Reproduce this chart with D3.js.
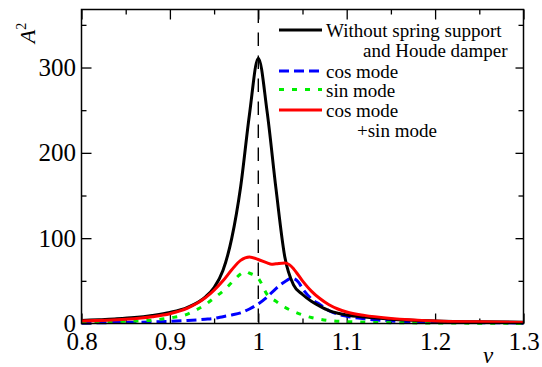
<!DOCTYPE html>
<html lang="en">
<head>
<meta charset="UTF-8" />
<title>Amplitude response</title>
<style>
  body { margin: 0; background: #fff; }
  .axis path { display: none; }
  .axis line { stroke: #000; stroke-width: 1.3; }
</style>
</head>
<body>
<div class="chart"></div>
<script src="https://d3js.org/d3.v7.min.js"></script>
<script>
// data =========================================================
const nuBlack = [0.80, 0.82, 0.84, 0.86, 0.88, 0.90, 0.92, 0.94, 0.95, 0.96, 0.97, 0.98, 0.99, 1.00, 1.01, 1.02, 1.03, 1.04, 1.05, 1.06, 1.07, 1.08, 1.09, 1.10, 1.12, 1.15, 1.20, 1.25, 1.30]
const aBlack  = [3.5, 4.5, 5.5, 7, 9.5, 13, 19, 31, 42, 62, 100, 160, 245, 311, 248, 158, 78, 45, 34, 26, 20, 15, 12, 10, 7.5, 5, 3, 2, 1.5]

const nuCos = [0.80, 0.85, 0.90, 0.92, 0.94, 0.95, 0.96, 0.97, 0.98, 0.99, 1.00, 1.01, 1.02, 1.03, 1.038, 1.045, 1.05, 1.06, 1.07, 1.08, 1.09, 1.10, 1.12, 1.15, 1.20, 1.25, 1.30]
const aCos  = [0.7, 1.3, 2.5, 3.5, 5, 6, 8, 10, 12.5, 17, 23, 31, 41, 49, 53, 49, 41, 29, 22, 15, 11, 8.5, 5.5, 3, 1.5, 1, 0.6]

const nuSin = [0.80, 0.85, 0.88, 0.90, 0.92, 0.93, 0.94, 0.95, 0.96, 0.97, 0.98, 0.985, 0.99, 1.00, 1.01, 1.02, 1.03, 1.04, 1.05, 1.06, 1.07, 1.08, 1.10, 1.15, 1.20, 1.30]
const aSin  = [1.5, 2.5, 4, 6.5, 11, 16, 22, 30, 38, 48, 58, 61, 59, 53, 34, 26, 19, 14, 10, 7, 5, 3.5, 2.2, 1, 0.6, 0.3]

const nuSum = [0.80, 0.85, 0.88, 0.90, 0.92, 0.94, 0.95, 0.96, 0.97, 0.98, 0.99, 1.00, 1.01, 1.015, 1.02, 1.03, 1.035, 1.04, 1.05, 1.06, 1.07, 1.08, 1.09, 1.10, 1.12, 1.15, 1.20, 1.25, 1.30]
const aSum  = [3, 5, 8, 11.5, 18, 30, 39, 50, 63, 74, 78, 75, 71, 69.5, 70, 71, 69, 64, 50, 38, 29, 22, 17, 13.5, 9.5, 6, 3, 2, 1.3]

const xMajor = [0.8, 0.9, 1.0, 1.1, 1.2, 1.3]
const xMinor = [0.85, 0.95, 1.05, 1.15, 1.25]
const yMajor = [0, 100, 200, 300]
const yMinor = [50, 150, 250, 350]

const legendNames = [['Without spring support', 'and Houde damper'], ['cos mode'], ['sin mode'], ['cos mode', '+sin mode']]

// layout =======================================================
const width = 542, height = 367
const mLeft = 81.5, mRight = 523.5, mTop = 9.5, mBottom = 323.5
const serif = "'Liberation Serif', 'Times New Roman', Times, 'DejaVu Serif', serif"

const svg = d3.select('.chart').append('svg')
  .attr('width', width)
  .attr('height', height)
  .attr('font-family', serif)

const x = d3.scaleLinear().domain([0.8, 1.3]).range([mLeft, mRight])
const y = d3.scaleLinear().domain([0, 368]).range([mBottom, mTop])

// axes, ticks point inward
const fmt = d => String(+d.toFixed(2))
const addAxis = (axis, tx, ty) => svg.append('g')
  .attr('class', 'axis')
  .attr('transform', `translate(${tx},${ty})`)
  .call(axis)
  .attr('font-family', serif)
  .attr('font-size', 25)

addAxis(d3.axisBottom(x).tickValues(xMajor).tickSize(-10).tickPadding(8.5).tickFormat(fmt), 0, mBottom)
addAxis(d3.axisBottom(x).tickValues(xMinor).tickSize(-5).tickFormat(''), 0, mBottom)
addAxis(d3.axisTop(x).tickValues(xMajor).tickSize(-10).tickFormat(''), 0, mTop)
addAxis(d3.axisTop(x).tickValues(xMinor).tickSize(-5).tickFormat(''), 0, mTop)
addAxis(d3.axisLeft(y).tickValues(yMajor).tickSize(-10).tickPadding(5.5), mLeft, 0)
addAxis(d3.axisLeft(y).tickValues(yMinor).tickSize(-5).tickFormat(''), mLeft, 0)
addAxis(d3.axisRight(y).tickValues(yMajor).tickSize(-8).tickFormat(''), mRight, 0)
addAxis(d3.axisRight(y).tickValues(yMinor).tickSize(-5).tickFormat(''), mRight, 0)

// dashed line at nu = 1
svg.append('line')
  .attr('x1', x(1)).attr('x2', x(1))
  .attr('y1', mTop).attr('y2', mBottom)
  .attr('stroke', '#000').attr('stroke-width', 1.4)
  .attr('stroke-dasharray', '13.5 9.5')

// curves
const series = [
  { nu: nuCos, a: aCos, color: '#0000ff', dash: '10 5' },
  { nu: nuSin, a: aSin, color: '#00ee00', dash: '5 8' },
  { nu: nuBlack, a: aBlack, color: '#000', dash: null },
  { nu: nuSum, a: aSum, color: '#ff0000', dash: null }
]
const line = d3.line().x(d => x(d[0])).y(d => y(d[1])).curve(d3.curveMonotoneX)

svg.append('clipPath').attr('id', 'clip')
  .append('rect').attr('x', mLeft).attr('y', mTop).attr('width', mRight - mLeft).attr('height', mBottom - mTop + 2)
const plot = svg.append('g').attr('clip-path', 'url(#clip)')

series.forEach(s => {
  plot.append('path')
    .datum(d3.zip(s.nu, s.a))
    .attr('d', line)
    .attr('fill', 'none')
    .attr('stroke', s.color)
    .attr('stroke-width', 3)
    .attr('stroke-dasharray', s.dash)
})

// frame
svg.append('rect')
  .attr('x', mLeft).attr('y', mTop)
  .attr('width', mRight - mLeft).attr('height', mBottom - mTop)
  .attr('fill', 'none').attr('stroke', '#000').attr('stroke-width', 1.5)

// legend
const legendStyle = [
  { color: '#000', dash: null },
  { color: '#0000ff', dash: '10 5' },
  { color: '#00ee00', dash: '5 8' },
  { color: '#ff0000', dash: null }
]
const legendY = [30, 71, 89.5, 110]
const legend = svg.append('g').attr('font-size', 19).attr('font-family', serif)
legendNames.forEach((names, i) => {
  legend.append('line')
    .attr('x1', 279).attr('x2', 322)
    .attr('y1', legendY[i]).attr('y2', legendY[i])
    .attr('stroke', legendStyle[i].color).attr('stroke-width', 3)
    .attr('stroke-dasharray', legendStyle[i].dash)
  legend.append('text')
    .attr('x', 326).attr('y', legendY[i] + 7)
    .text(names[0])
  if (names[1]) {
    legend.append('text')
      .attr('x', i === 0 ? 363 : 357).attr('y', legendY[i] + 27)
      .text(names[1])
  }
})

// axis titles
svg.append('text')
  .attr('transform', 'translate(35,33) rotate(-90)')
  .attr('text-anchor', 'middle')
  .attr('font-size', 22)
  .attr('font-style', 'italic')
  .html('A<tspan dy="-9" font-size="14" font-style="normal">2</tspan>')

svg.append('text')
  .attr('x', 488).attr('y', 363)
  .attr('text-anchor', 'middle')
  .attr('font-size', 23)
  .attr('font-style', 'italic')
  .text('ν')
</script>
</body>
</html>
